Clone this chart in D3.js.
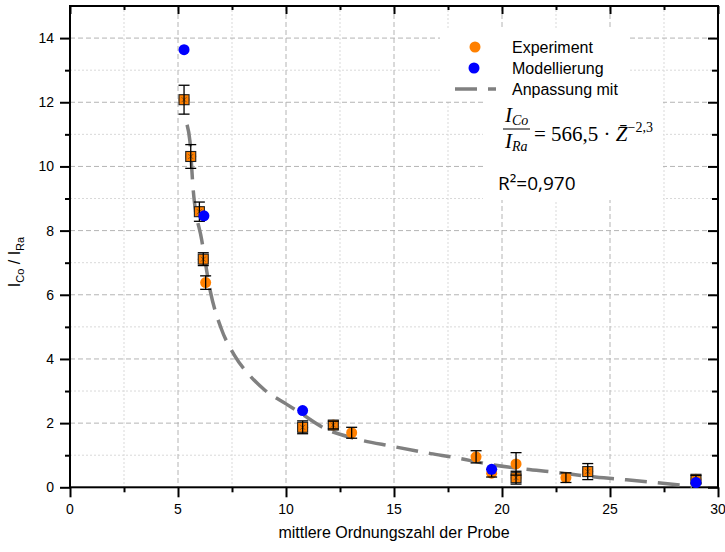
<!DOCTYPE html>
<html><head><meta charset="utf-8">
<script src="https://cdn.jsdelivr.net/npm/d3@7/dist/d3.min.js"></script>
<style>body{margin:0;background:#fff}svg{display:block}</style>
</head><body><svg id="c" width="725" height="552"></svg>
<script>
// ---- data ----
const expZ   = [5.28, 5.59, 5.99, 6.17, 6.28, 10.77, 12.19, 13.04, 18.8, 19.52, 20.65, 20.65, 22.96, 23.97, 28.98];
const expY   = [12.08, 10.31, 8.59, 7.11, 6.38, 1.87, 1.94, 1.70, 0.95, 0.44, 0.73, 0.30, 0.30, 0.49, 0.25];
const expErr = [0.45, 0.37, 0.30, 0.20, 0.21, 0.20, 0.12, 0.17, 0.19, 0.12, 0.35, 0.20, 0.15, 0.25, 0.12];
const expGroup = ["B","B","B","B","A","B","B","A","A","A","A","B","A","B","B"];
const modZ = [5.28, 6.2, 10.77, 19.52, 28.98];
const modY = [13.64, 8.46, 2.39, 0.56, 0.15];
const fitZ = [5.42, 5.55, 5.7, 6.1, 6.5, 7.0, 7.6, 8.3, 9.0, 10.0, 10.7, 11.75, 13.3, 14.9, 16.7, 17.8, 19.4, 20.9, 22.6, 24.0, 25.5, 27.1, 28.8];
const fitY = [11.3, 10.8, 9.3, 7.7, 6.1, 4.95, 4.13, 3.5, 3.04, 2.6, 2.3, 1.85, 1.5, 1.28, 1.05, 0.93, 0.72, 0.58, 0.46, 0.34, 0.25, 0.15, 0.03];
const xTicks = [0, 5, 10, 15, 20, 25, 30];
const yTicks = [0, 2, 4, 6, 8, 10, 12, 14];
const legendLabels = ["Experiment", "Modellierung", "Anpassung mit"];
const xTitle = "mittlere Ordnungszahl der Probe";
const r2Text = "R²=0,970";

// ---- layout ----
const svg = d3.select("#c");
const L = 70, R = 718, T = 6, B = 487.3;
const x = d3.scaleLinear().domain([0, 30]).range([L, R]);
const y = d3.scaleLinear().domain([0, 15]).range([B, T]);
const ORANGE = "#ff8000", BLUE = "#0000ff";
const font = "'Liberation Sans', Arial, sans-serif";

const xMinor = d3.range(2.5, 30, 5);
const yMinor = d3.range(1, 15, 2);

// grid
const g = svg.append("g");
g.selectAll(".xm").data(xMinor).enter().append("line")
  .attr("x1", d => x(d)).attr("x2", d => x(d)).attr("y1", T).attr("y2", B)
  .attr("stroke", "#d9d9d9").attr("stroke-dasharray", "2,2");
g.selectAll(".ym").data(yMinor).enter().append("line")
  .attr("y1", d => y(d)).attr("y2", d => y(d)).attr("x1", L).attr("x2", R)
  .attr("stroke", "#d9d9d9").attr("stroke-dasharray", "2,2");
g.selectAll(".xg").data(xTicks.slice(1, -1)).enter().append("line")
  .attr("x1", d => x(d)).attr("x2", d => x(d)).attr("y1", T).attr("y2", B)
  .attr("stroke", "#b4b4b4").attr("stroke-dasharray", "5,3");
g.selectAll(".yg").data(yTicks.slice(1)).enter().append("line")
  .attr("y1", d => y(d)).attr("y2", d => y(d)).attr("x1", L).attr("x2", R)
  .attr("stroke", "#b4b4b4").attr("stroke-dasharray", "5,3");

// white boxes behind legend & formula
svg.append("rect").attr("x", 440).attr("y", 30).attr("width", 190).attr("height", 70).attr("fill", "#fff");
svg.append("rect").attr("x", 483).attr("y", 98).attr("width", 180).attr("height", 102).attr("fill", "#fff");

// axes
const ax = svg.append("g").attr("stroke", "#000").attr("stroke-width", 2);
ax.append("g").attr("transform", `translate(0,${B})`)
  .call(d3.axisBottom(x).tickValues(xTicks).tickSize(10).tickFormat(""));
ax.append("g").attr("transform", `translate(0,${B})`)
  .call(d3.axisBottom(x).tickValues(xMinor).tickSize(5).tickFormat(""));
ax.append("g").attr("transform", `translate(0,${T})`)
  .call(d3.axisBottom(x).tickValues(xTicks).tickSize(8).tickFormat(""));
ax.append("g").attr("transform", `translate(0,${T})`)
  .call(d3.axisBottom(x).tickValues(xMinor).tickSize(4).tickFormat(""));
ax.append("g").attr("transform", `translate(${L},0)`)
  .call(d3.axisLeft(y).tickValues(yTicks).tickSize(10).tickFormat(""));
ax.append("g").attr("transform", `translate(${L},0)`)
  .call(d3.axisLeft(y).tickValues(yMinor).tickSize(5).tickFormat(""));
ax.append("g").attr("transform", `translate(${R},0)`)
  .call(d3.axisLeft(y).tickValues(yTicks).tickSize(10).tickFormat(""));
ax.append("g").attr("transform", `translate(${R},0)`)
  .call(d3.axisLeft(y).tickValues(yMinor).tickSize(6).tickFormat(""));
ax.selectAll(".domain").remove();
ax.selectAll("line").attr("stroke", "#000").attr("stroke-width", 2);
svg.append("rect").attr("x", L).attr("y", T).attr("width", R - L).attr("height", B - T)
  .attr("fill", "none").attr("stroke", "#000").attr("stroke-width", 2);

// tick labels
svg.selectAll(".xl").data(xTicks).enter().append("text")
  .attr("x", d => x(d)).attr("y", 514).attr("text-anchor", "middle")
  .attr("font-family", font).attr("font-size", 14).text(d => d);
svg.selectAll(".yl").data(yTicks).enter().append("text")
  .attr("x", 54).attr("y", d => y(d) + 5).attr("text-anchor", "end")
  .attr("font-family", font).attr("font-size", 14).text(d => d);

// axis titles
svg.append("text").attr("x", x(15)).attr("y", 538).attr("text-anchor", "middle")
  .attr("font-family", font).attr("font-size", 16).text(xTitle);
const yt = svg.append("text").attr("transform", "translate(20,262) rotate(-90)")
  .attr("text-anchor", "middle").attr("font-family", font).attr("font-size", 16);
yt.append("tspan").text("I");
yt.append("tspan").attr("font-size", 11).attr("dy", 4).text("Co");
yt.append("tspan").attr("dy", -4).text(" / I");
yt.append("tspan").attr("font-size", 11).attr("dy", 4).text("Ra");

// fit line
const line = d3.line().x((d, i) => x(fitZ[i])).y(d => y(d)).curve(d3.curveMonotoneX);
svg.append("path").datum(fitY).attr("d", line).attr("fill", "none")
  .attr("stroke", "#808080").attr("stroke-width", 3.5).attr("stroke-dasharray", "22,11");

// experiment points
const pts = expZ.map((z, i) => ({z, v: expY[i], e: expErr[i], grp: expGroup[i]}));
const pe = svg.append("g");
pe.selectAll("circle").data(pts).enter().append("circle")
  .attr("cx", d => x(d.z)).attr("cy", d => y(d.v)).attr("r", 5.5).attr("fill", ORANGE);
// boxed markers
const boxed = pts.filter(d => d.grp === "B");
pe.selectAll(".bx").data(boxed).enter().append("rect")
  .attr("x", d => x(d.z) - 5).attr("y", d => y(d.v) - 5).attr("width", 10).attr("height", 10)
  .attr("fill", ORANGE).attr("stroke", "#222").attr("stroke-width", 1.1);
boxed.forEach(d => {
  const cx = x(d.z), cy = y(d.v);
  pe.append("path").attr("d", `M${cx-2.5},${cy-2.5}L${cx+2.5},${cy+2.5}M${cx+2.5},${cy-2.5}L${cx-2.5},${cy+2.5}`)
    .attr("stroke", "#333").attr("stroke-width", 1).attr("opacity", 0.55);
});
// error bars
const eb = svg.append("g").attr("stroke", "#000").attr("stroke-width", 1.3);
pts.forEach(d => {
  const cx = x(d.z), y1 = y(d.v + d.e), y2 = y(d.v - d.e);
  eb.append("line").attr("x1", cx).attr("x2", cx).attr("y1", y1).attr("y2", y2);
  eb.append("line").attr("x1", cx - 5.5).attr("x2", cx + 5.5).attr("y1", y1).attr("y2", y1);
  eb.append("line").attr("x1", cx - 5.5).attr("x2", cx + 5.5).attr("y1", y2).attr("y2", y2);
});

// model points
svg.append("g").selectAll("circle").data(modZ).enter().append("circle")
  .attr("cx", d => x(d)).attr("cy", (d, i) => y(modY[i])).attr("r", 5.5).attr("fill", BLUE);

// legend
const lg = svg.append("g").attr("font-family", font).attr("font-size", 16);
lg.append("circle").attr("cx", 475).attr("cy", 47).attr("r", 5.5).attr("fill", ORANGE);
lg.append("circle").attr("cx", 474).attr("cy", 68).attr("r", 5.5).attr("fill", BLUE);
lg.append("line").attr("x1", 455).attr("x2", 496).attr("y1", 89).attr("y2", 89)
  .attr("stroke", "#808080").attr("stroke-width", 3.5).attr("stroke-dasharray", "22,11");
legendLabels.forEach((t, i) => lg.append("text").attr("x", 512).attr("y", 53 + i * 20.8).text(t));

// formula
const fm = svg.append("g").attr("font-family", "'Liberation Serif', serif").attr("font-size", 21);
const num = fm.append("text").attr("x", 505).attr("y", 122).attr("font-style", "italic");
num.append("tspan").text("I");
num.append("tspan").attr("font-size", 14).attr("dy", 3).text("Co");
const den = fm.append("text").attr("x", 505).attr("y", 148).attr("font-style", "italic");
den.append("tspan").text("I");
den.append("tspan").attr("font-size", 14).attr("dy", 3).text("Ra");
fm.append("line").attr("x1", 503).attr("x2", 530).attr("y1", 129).attr("y2", 129)
  .attr("stroke", "#000").attr("stroke-width", 1);
const eq = fm.append("text").attr("x", 534).attr("y", 141);
eq.append("tspan").text("= 566,5 · ");
eq.append("tspan").attr("font-style", "italic").text("Z̄");
eq.append("tspan").attr("font-size", 14).attr("dy", -9).text("−2,3");
svg.append("text").attr("x", 498).attr("y", 190).attr("font-family", "'Open Sans', sans-serif")
  .attr("font-size", 19).text(r2Text);
</script></body></html>
